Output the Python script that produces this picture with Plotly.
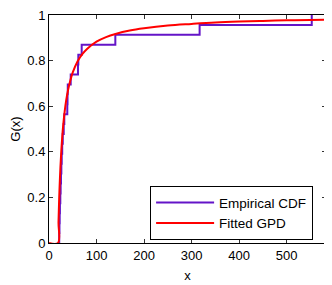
import numpy as np
import plotly.graph_objects as go

# Empirical sample (sorted), read from the step positions
sample_x = [21.5, 22, 22.5, 23, 23.8, 24.5, 25.2, 26, 26.8, 27.8, 29, 31, 32.2,
            38.5, 39, 39.5, 45.7, 61, 61.7, 68.8, 139.6, 317, 553]

# Fitted GPD curve
gpd_x = [0, 19, 20, 21, 22, 24, 26, 28, 30, 33, 36, 40, 45, 50, 60, 70, 80, 100,
         120, 140, 170, 200, 250, 300, 350, 400, 450, 500, 550, 583]
gpd_y = [0, 0, 0.091, 0.166, 0.230, 0.331, 0.408, 0.469, 0.519, 0.577, 0.623,
         0.670, 0.714, 0.748, 0.796, 0.828, 0.851, 0.883, 0.903, 0.917, 0.932,
         0.942, 0.954, 0.961, 0.967, 0.971, 0.974, 0.9765, 0.9786, 0.9798]

x_ticks = [0, 100, 200, 300, 400, 500]
y_ticks = [0, 0.2, 0.4, 0.6, 0.8, 1]
y_tick_labels = ["0", "0.2", "0.4", "0.6", "0.8", "1"]

n = len(sample_x)
ecdf_x = [sample_x[0]] + list(sample_x)
ecdf_y = [0.0] + list(np.arange(1, n + 1) / n)

fig = go.Figure()
fig.add_trace(go.Scatter(x=ecdf_x, y=ecdf_y, mode="lines", line_shape="hv",
                         line=dict(color="rgb(100,20,200)", width=2),
                         name="Empirical CDF"))
fig.add_trace(go.Scatter(x=gpd_x, y=gpd_y, mode="lines", line_shape="spline",
                         line=dict(color="#ff0000", width=2),
                         name="Fitted GPD"))

axis_common = dict(showline=True, linecolor="#000000", linewidth=1, mirror="ticks",
                   ticks="inside", ticklen=4, tickcolor="#333333",
                   showgrid=False, zeroline=False, automargin=False,
                   ticklabeloverflow="allow",
                   tickfont=dict(family="Liberation Sans, Arial", size=13, color="#000"))

fig.update_layout(
    width=324, height=277,
    margin=dict(l=41, r=6, t=7, b=42),
    paper_bgcolor="white", plot_bgcolor="white",
    font=dict(family="Liberation Sans, Arial", size=13, color="#000"),
    xaxis=dict(range=[0, 583], tickvals=x_ticks,
               title=dict(text="x", standoff=9, font=dict(size=13)), **axis_common),
    yaxis=dict(range=[0, 1], tickvals=y_ticks, ticktext=y_tick_labels,
               title=dict(text="G(x)", standoff=6, font=dict(size=13)), **axis_common),
    legend=dict(x=0.365, xanchor="left", y=0.012, yanchor="bottom",
                bordercolor="#000", borderwidth=1, bgcolor="white",
                font=dict(size=13.5), tracegroupgap=0, itemwidth=58,
                entrywidth=105),
    showlegend=True,
)

fig.write_html("out.html")
